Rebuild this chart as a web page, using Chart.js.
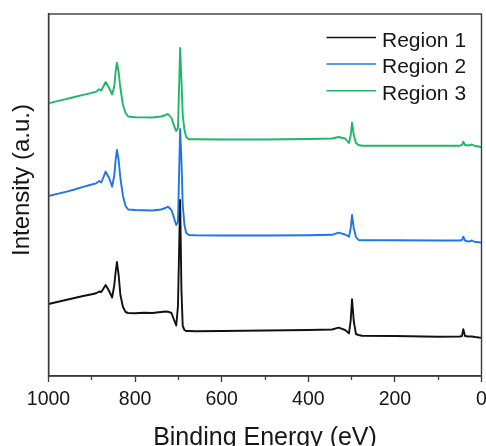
<!DOCTYPE html>
<html>
<head>
<meta charset="utf-8">
<script src="https://cdn.jsdelivr.net/npm/chart.js@4.4.1/dist/chart.umd.min.js"></script>
<style>
  html, body { margin: 0; padding: 0; background: #ffffff; }
  canvas { display: block; }
</style>
</head>
<body>
<canvas id="xps" width="486" height="446"></canvas>
<script>
// Binding energy grid (eV), shared by all three survey spectra
const energies = [
  1000, 980, 960, 940, 920, 900, 890, 883, 878, 868,
  860, 853, 848, 845, 842, 838, 834, 828, 822, 816,
  800, 780, 760, 740, 730, 724, 716, 710, 705, 701,
  696, 693, 690, 686, 682, 676, 660, 600, 500, 400,
  345, 330, 315, 306, 302, 299, 295, 290, 284, 276,
  200, 100, 50, 45, 42, 38, 30, 22, 15, 6,
  0
];

// Intensity (arbitrary units, spectra already offset vertically)
const region1 = [
  72, 74, 76, 78, 80, 81.7, 82.7, 84.5, 84, 91,
  85, 78.5, 91, 104, 114, 101, 81, 69, 64, 63,
  62.7, 63.3, 63, 64, 64.5, 64.3, 63, 56, 50.5, 70,
  176, 86, 50, 46, 45, 45, 44.7, 45, 45.5, 46,
  46.5, 48.3, 46, 42.7, 56, 76.7, 55, 42, 41, 40.3,
  40, 39.3, 39.5, 40, 46.7, 40, 39.5, 39.5, 39, 38.5,
  38.3
];
const region2 = [
  180, 182.1, 184.2, 186.5, 189.2, 191.5, 192.7, 195, 193.5, 204.3,
  198, 189.3, 201, 216, 226, 216, 198, 180, 170, 166.5,
  166, 165.8, 165.5, 166.5, 168, 169.3, 166, 158, 151, 154,
  247, 216, 171, 151, 143, 141, 140.7, 140.5, 140.5, 140.7,
  141.2, 143.3, 141.5, 139.3, 148, 161, 148, 139, 136, 135.7,
  135.7, 135.5, 135.5, 136, 139.3, 135.5, 134.3, 135.5, 134, 133.8,
  133.3
];
const region3 = [
  272.7, 274.8, 276.9, 279, 281.1, 283.2, 284.3, 286.7, 285.5, 294,
  288, 281.5, 290, 304, 313.3, 304, 288, 271, 263, 259.5,
  258.7, 258.6, 258.5, 259.5, 261, 262, 258, 250, 245, 248,
  328, 296, 261, 246, 239, 236.7, 236.7, 236.5, 236.5, 237,
  237.5, 239, 237.5, 233, 241, 253.3, 241, 233, 231, 230.3,
  230.3, 230.3, 230.3, 231, 234.3, 231, 230.5, 231.5, 230, 229.5,
  228.7
];

const seriesLabels = ['Region 1', 'Region 2', 'Region 3'];
const seriesValues = [region1, region2, region3];
const seriesColors = ['#111111', '#1f76e6', '#1bb86a'];
const labeledTicks = [1000, 800, 600, 400, 200, 0];
const xTitle = 'Binding Energy (eV)';
const yTitle = 'Intensity (a.u.)';

const FONT = '"Liberation Sans", Arial, Helvetica, sans-serif';
const TEXT = '#161616';
const FRAME = '#3a3a3a';

const datasets = seriesLabels.map((label, i) => ({
  label,
  data: energies.map((e, k) => ({ x: e, y: seriesValues[i][k] })),
  borderColor: seriesColors[i],
  borderWidth: 1.9,
  borderJoinStyle: 'round',
  pointRadius: 0,
  tension: 0,
  fill: false
}));

// Frame around the plot, rotated y title and the in-plot legend
const decorations = {
  id: 'decorations',
  afterDraw(chart) {
    const { ctx, chartArea: a } = chart;
    ctx.save();
    ctx.strokeStyle = FRAME;
    ctx.lineWidth = 1.4;
    ctx.strokeRect(a.left, a.top, a.right - a.left, a.bottom - a.top);

    ctx.fillStyle = TEXT;
    ctx.font = '24px ' + FONT;
    ctx.textAlign = 'center';
    ctx.textBaseline = 'alphabetic';
    ctx.translate(a.left - 19.5, (a.top + a.bottom) / 2 - 15);
    ctx.rotate(-Math.PI / 2);
    ctx.fillText(yTitle, 0, 0);
    ctx.restore();

    ctx.save();
    ctx.font = '21px ' + FONT;
    ctx.textAlign = 'left';
    ctx.textBaseline = 'alphabetic';
    chart.data.datasets.forEach((ds, i) => {
      const y = a.top + 23.5 + i * 26.6;
      ctx.strokeStyle = ds.borderColor;
      ctx.lineWidth = 1.5;
      ctx.beginPath();
      ctx.moveTo(a.right - 155, y);
      ctx.lineTo(a.right - 105.5, y);
      ctx.stroke();
      ctx.fillStyle = TEXT;
      ctx.fillText(ds.label, a.right - 99.5, y + 9);
    });
    ctx.restore();
  }
};

new Chart(document.getElementById('xps'), {
  type: 'line',
  data: { datasets },
  plugins: [decorations],
  options: {
    responsive: false,
    devicePixelRatio: 1,
    animation: false,
    layout: { padding: { top: 14, right: 4.5, left: 0, bottom: 0 } },
    plugins: { legend: { display: false }, tooltip: { enabled: false } },
    scales: {
      x: {
        type: 'linear',
        reverse: true,
        min: 0,
        max: 1000,
        afterFit(scale) {
          scale.height = 70;
          scale.paddingLeft = 0;
          scale.paddingRight = 0;
        },
        ticks: {
          stepSize: 100,
          autoSkip: false,
          maxRotation: 0,
          padding: 6,
          color: TEXT,
          font: { family: FONT, size: 19.5 },
          callback: v => labeledTicks.includes(v) ? String(v) : ''
        },
        grid: {
          display: true,
          drawOnChartArea: false,
          drawTicks: true,
          tickLength: 6,
          tickColor: FRAME,
          tickWidth: 1.3,
          tickBorderDash: ctx => labeledTicks.includes(ctx.tick && ctx.tick.value) ? [] : [3.5, 20]
        },
        border: { display: true, color: FRAME, width: 1.4 },
        title: {
          display: true,
          text: xTitle,
          color: TEXT,
          font: { family: FONT, size: 25, lineHeight: 0.6 },
          padding: { top: 0, bottom: 0 }
        }
      },
      y: {
        min: 0,
        max: 362,
        afterFit(scale) { scale.width = 48.5; },
        ticks: { display: false },
        grid: { display: false, drawTicks: false },
        border: { display: true, color: FRAME, width: 1.4 },
        title: { display: false }
      }
    }
  }
});
</script>
</body>
</html>
